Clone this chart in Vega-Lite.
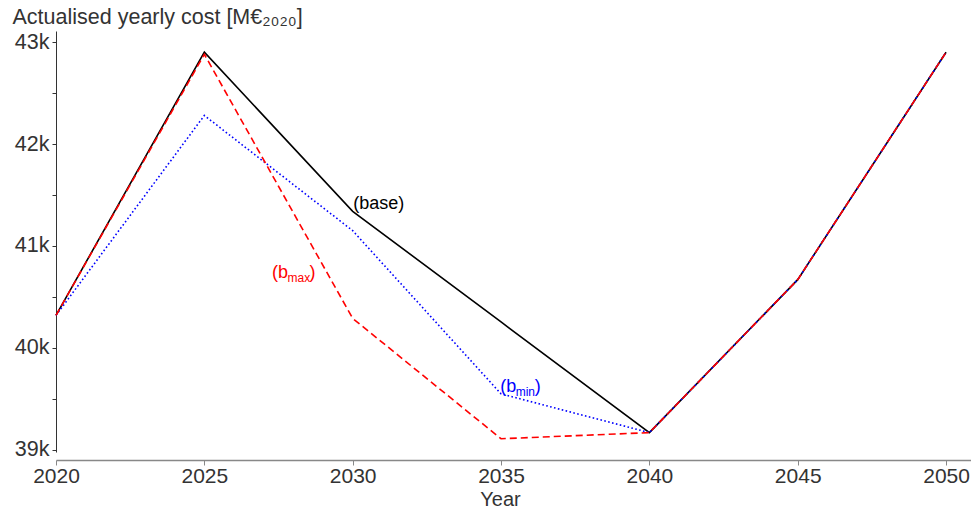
{
  "$schema": "https://vega.github.io/schema/vega-lite/v6.json",
  "width": 915,
  "height": 421,
  "autosize": {"type": "none"},
  "padding": {"left": 56, "top": 31, "right": 0, "bottom": 57},
  "background": "white",
  "config": {
    "view": {"stroke": null},
    "font": "Liberation Sans",
    "axis": {"grid": false, "labelFont": "Liberation Sans", "titleFont": "Liberation Sans", "labelColor": "#333333", "titleColor": "#333333", "titleFontWeight": "normal", "labelFlush": false, "labelBound": false, "labelOverlap": false}
  },
  "datasets": {
    "costs": [
      {"Year": 2020, "cost": 40320, "scenario": "base"},
      {"Year": 2025, "cost": 42900, "scenario": "base"},
      {"Year": 2030, "cost": 41340, "scenario": "base"},
      {"Year": 2035, "cost": 40255, "scenario": "base"},
      {"Year": 2040, "cost": 39170, "scenario": "base"},
      {"Year": 2045, "cost": 40670, "scenario": "base"},
      {"Year": 2050, "cost": 42900, "scenario": "base"},
      {"Year": 2020, "cost": 40320, "scenario": "bmin"},
      {"Year": 2025, "cost": 42280, "scenario": "bmin"},
      {"Year": 2030, "cost": 41150, "scenario": "bmin"},
      {"Year": 2035, "cost": 39550, "scenario": "bmin"},
      {"Year": 2040, "cost": 39170, "scenario": "bmin"},
      {"Year": 2045, "cost": 40670, "scenario": "bmin"},
      {"Year": 2050, "cost": 42900, "scenario": "bmin"},
      {"Year": 2020, "cost": 40320, "scenario": "bmax"},
      {"Year": 2025, "cost": 42880, "scenario": "bmax"},
      {"Year": 2030, "cost": 40290, "scenario": "bmax"},
      {"Year": 2035, "cost": 39110, "scenario": "bmax"},
      {"Year": 2040, "cost": 39170, "scenario": "bmax"},
      {"Year": 2045, "cost": 40670, "scenario": "bmax"},
      {"Year": 2050, "cost": 42900, "scenario": "bmax"}
    ],
    "labels": [
      {"Year": 2030.02, "cost": 41360, "scenario": "base", "head": "(base)", "sub": "", "tail": ""},
      {"Year": 2027.28, "cost": 40690, "scenario": "bmax", "head": "(b", "sub": "max", "tail": ")"},
      {"Year": 2034.97, "cost": 39570, "scenario": "bmin", "head": "(b", "sub": "min", "tail": ")"}
    ]
  },
  "encoding": {
    "x": {
      "field": "Year", "type": "quantitative",
      "scale": {"domain": [2020, 2050.84], "nice": false, "zero": false},
      "axis": {
        "values": [2020, 2025, 2030, 2035, 2040, 2045, 2050], "format": "d",
        "labelFontSize": 21, "labelPadding": 0, "tickSize": 5, "offset": 8,
        "domainColor": "#888888", "tickColor": "#888888", "domainWidth": 1.5,
        "title": "Year", "titleFontSize": 20, "titlePadding": 3, "titleX": 444
      }
    },
    "y": {
      "field": "cost", "type": "quantitative",
      "scale": {"domain": [38980, 43108], "nice": false, "zero": false},
      "axis": {
        "values": [39000, 39500, 40000, 40500, 41000, 41500, 42000, 42500, 43000],
        "labelExpr": "datum.value % 1000 == 0 ? format(datum.value / 1000, 'd') + 'k' : ''",
        "labelFontSize": 21.5, "labelPadding": 3, "tickSize": 4,
        "domainColor": "#333333", "tickColor": "#333333",
        "title": "Actualised yearly cost [M€₂₀₂₀]", "titleFontSize": 21.5,
        "titleAngle": 0, "titleAlign": "left", "titleBaseline": "alphabetic",
        "titleX": -44, "titleY": -8
      }
    }
  },
  "layer": [
    {
      "data": {"name": "costs"},
      "transform": [{"filter": "datum.scenario == 'base'"}],
      "mark": {"type": "line", "color": "black", "strokeWidth": 1.6}
    },
    {
      "data": {"name": "costs"},
      "transform": [{"filter": "datum.scenario == 'bmin'"}],
      "mark": {"type": "line", "color": "blue", "strokeWidth": 1.6, "strokeDash": [1.6, 2.4]}
    },
    {
      "data": {"name": "costs"},
      "transform": [{"filter": "datum.scenario == 'bmax'"}],
      "mark": {"type": "line", "color": "red", "strokeWidth": 1.6, "strokeDash": [7, 4]}
    },
    {
      "data": {"name": "labels"},
      "mark": {"type": "text", "align": "left", "baseline": "alphabetic", "fontSize": 18},
      "encoding": {
        "text": {"field": "head"},
        "color": {"field": "scenario", "type": "nominal", "scale": {"domain": ["base", "bmin", "bmax"], "range": ["black", "blue", "red"]}, "legend": null}
      }
    },
    {
      "data": {"name": "labels"},
      "mark": {"type": "text", "align": "left", "baseline": "alphabetic", "fontSize": 12, "dx": 15.5, "dy": 4},
      "encoding": {
        "text": {"field": "sub"},
        "color": {"field": "scenario", "type": "nominal", "legend": null}
      }
    },
    {
      "data": {"name": "labels"},
      "transform": [{"filter": "datum.scenario == 'bmax'"}],
      "mark": {"type": "text", "align": "left", "baseline": "alphabetic", "fontSize": 18, "dx": 37.5},
      "encoding": {
        "text": {"field": "tail"},
        "color": {"field": "scenario", "type": "nominal", "legend": null}
      }
    },
    {
      "data": {"name": "labels"},
      "transform": [{"filter": "datum.scenario == 'bmin'"}],
      "mark": {"type": "text", "align": "left", "baseline": "alphabetic", "fontSize": 18, "dx": 34.5},
      "encoding": {
        "text": {"field": "tail"},
        "color": {"field": "scenario", "type": "nominal", "legend": null}
      }
    }
  ]
}
